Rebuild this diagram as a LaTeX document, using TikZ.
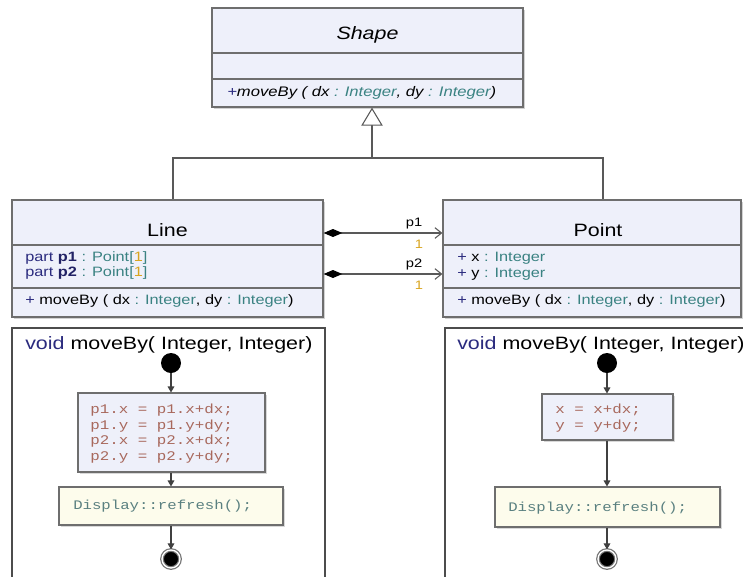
\documentclass[tikz,border=0pt]{standalone}
\usepackage{fontspec}
\setmainfont{Liberation Sans}[FakeStretch=1.2]
\setmonofont{Liberation Mono}[FakeStretch=1.2]
\usetikzlibrary{arrows.meta,fit,shadows}
\definecolor{boxfill}{HTML}{EEF0FA}
\definecolor{dispfill}{HTML}{FDFCEC}
\definecolor{boxline}{HTML}{6E6E6E}
\definecolor{navy}{HTML}{2B2B7E}
\definecolor{teal}{HTML}{3A8282}
\definecolor{mult}{HTML}{D9A520}
\definecolor{code}{HTML}{A8685C}
\definecolor{disp}{HTML}{5A8080}
\tikzset{
  umlbox/.style={draw=boxline, line width=0.9pt, fill=boxfill, inner sep=0pt,
    drop shadow={shadow xshift=1.5pt, shadow yshift=-1.5pt, opacity=0.35}},
  actbox/.style={draw=boxline, line width=0.8pt, fill=boxfill, inner sep=0pt,
    drop shadow={shadow xshift=1.5pt, shadow yshift=-1.5pt, opacity=0.3}},
  dispbox/.style={draw=boxline, line width=0.8pt, fill=dispfill, inner sep=0pt,
    drop shadow={shadow xshift=1.5pt, shadow yshift=-1.5pt, opacity=0.3}},
  frame/.style={draw=black!70, line width=1pt},
  sep/.style={draw=boxline, line width=0.8pt},
  ttl/.style={font=\fontsize{13.4}{16}\selectfont, inner sep=0pt},
  attr/.style={font=\fontsize{10.2}{12}\selectfont, anchor=west, inner sep=0pt},
  codet/.style={font=\ttfamily\fontsize{9.9}{11.8}\selectfont, anchor=west, inner sep=0pt, align=left, text=code},
  dispt/.style={font=\ttfamily\fontsize{9.8}{12}\selectfont, anchor=west, inner sep=0pt, text=disp},
  lbl/.style={font=\fontsize{9.2}{11}\selectfont, inner sep=0pt},
  startnode/.style={circle, fill=black, minimum size=15pt, inner sep=0pt},
  endnode/.style={circle, fill=black, draw=black!55, double=white, double distance=1pt, line width=0.9pt, minimum size=13.5pt, inner sep=0pt},
  flow/.style={draw=black!75, line width=0.8pt, -{Triangle[length=4.5pt,width=5pt]}},
  compo/.style={draw=black!65, line width=0.8pt, {Diamond[length=14pt,width=6pt,color=black,fill=black]}-{Straight Barb[length=5pt,width=8pt]}},
  inherit/.style={draw=black!65, line width=0.8pt, -{Triangle[open,length=13.5pt,width=16pt,fill=white]}},
  conn/.style={draw=black!65, line width=0.8pt}
}
\begin{document}
\begin{tikzpicture}[x=0.75pt,y=-0.75pt]
\useasboundingbox (0,0) rectangle (743,576);
\clip (0,0) rectangle (743,576);
\fill[white] (0,0) rectangle (743,576);

% ---------- Shape ----------
\node[umlbox, fit={(212,8) (523,107)}] (shape) {};
\draw[sep] (shape.west |- 0,53) -- (shape.east |- 0,53);
\draw[sep] (shape.west |- 0,79) -- (shape.east |- 0,79);
\node[ttl] (shapet) at (367.5,35) {\itshape Shape};
\node[attr, font=\itshape\fontsize{10.4}{12}\selectfont] (shapem) at (227,93)
  {\textcolor{navy}{+}moveBy ( dx \textcolor{teal}{: Integer}, dy \textcolor{teal}{: Integer})};

% ---------- Line ----------
\node[umlbox, fit={(12,200) (323,317)}] (line) {};
\draw[sep] (line.west |- 0,245) -- (line.east |- 0,245);
\draw[sep] (line.west |- 0,288) -- (line.east |- 0,288);
\node[ttl] (linet) at (167.5,230) {Line};
\node[attr] (la1) at (25,258) {\textcolor{navy}{part} \textcolor{navy!80!black}{\bfseries p1} \textcolor{teal}{: Point[}\textcolor{mult}{1}\textcolor{teal}{]}};
\node[attr] (la2) at (25,273) {\textcolor{navy}{part} \textcolor{navy!80!black}{\bfseries p2} \textcolor{teal}{: Point[}\textcolor{mult}{1}\textcolor{teal}{]}};
\node[attr] (lm) at (25,301) {\textcolor{navy}{+} moveBy ( dx \textcolor{teal}{: Integer}, dy \textcolor{teal}{: Integer})};

% ---------- Point ----------
\node[umlbox, fit={(443,200) (741,317)}] (point) {};
\draw[sep] (point.west |- 0,245) -- (point.east |- 0,245);
\draw[sep] (point.west |- 0,288) -- (point.east |- 0,288);
\node[ttl] (pointt) at (598,230) {Point};
\node[attr] (pa1) at (457,258) {\textcolor{navy}{+} x \textcolor{teal}{: Integer}};
\node[attr] (pa2) at (457,274) {\textcolor{navy}{+} y \textcolor{teal}{: Integer}};
\node[attr] (pm) at (457,301) {\textcolor{navy}{+} moveBy ( dx \textcolor{teal}{: Integer}, dy \textcolor{teal}{: Integer})};

% ---------- Inheritance ----------
\coordinate (bl) at (173,158);
\coordinate (br) at (603,158);
\coordinate (bm) at (372,158);
\draw[conn] (line.north -| bl) -- (bl) -- (br) -- (point.north -| br);
\draw[inherit] (bm) -- (shape.south -| bm);

% ---------- Compositions ----------
\coordinate (c1) at (0,233);
\coordinate (c2) at (0,274);
\draw[compo] (line.east |- c1) -- (point.west |- c1);
\draw[compo] (line.east |- c2) -- (point.west |- c2);
\node[lbl] (p1l) at (414,224) {p1};
\node[lbl, text=mult] (m1l) at (419,244) {1};
\node[lbl] (p2l) at (414,264) {p2};
\node[lbl, text=mult] (m2l) at (419,285) {1};

% ---------- Left activity ----------
\draw[frame] (12,600) -- (12,328) -- (325,328) -- (325,600);
\node[ttl, anchor=west] (lft) at (25,345) {\textcolor{navy}{void} moveBy( Integer, Integer)};
\node[startnode] (ls) at (171,363) {};
\node[actbox, fit={(78,393) (265,472)}] (la) {};
\node[codet] (lac) at (90,433.5) {p1.x = p1.x+dx;\\p1.y = p1.y+dy;\\p2.x = p2.x+dx;\\p2.y = p2.y+dy;};
\node[dispbox, fit={(59,487) (283,525)}] (ld) {};
\node[dispt] (ldt) at (73,506) {Display::refresh();};
\node[endnode] (le) at (171,559) {};
\draw[flow] (ls) -- (la.north -| ls);
\draw[flow] (la.south -| ls) -- (ld.north -| ls);
\draw[flow] (ld.south -| ls) -- (le);

% ---------- Right activity ----------
\draw[frame] (445,600) -- (445,328) -- (760,328);
\node[ttl, anchor=west] (rft) at (457,345) {\textcolor{navy}{void} moveBy( Integer, Integer)};
\node[startnode] (rs) at (607,363) {};
\node[actbox, fit={(542,394) (673,440)}] (ra) {};
\node[codet] (rac) at (555,418) {x = x+dx;\\y = y+dy;};
\node[dispbox, fit={(495,487) (720,527)}] (rd) {};
\node[dispt] (rdt) at (508,508) {Display::refresh();};
\node[endnode] (re) at (607,559) {};
\draw[flow] (rs) -- (ra.north -| rs);
\draw[flow] (ra.south -| rs) -- (rd.north -| rs);
\draw[flow] (rd.south -| rs) -- (re);
\end{tikzpicture}
\end{document}
